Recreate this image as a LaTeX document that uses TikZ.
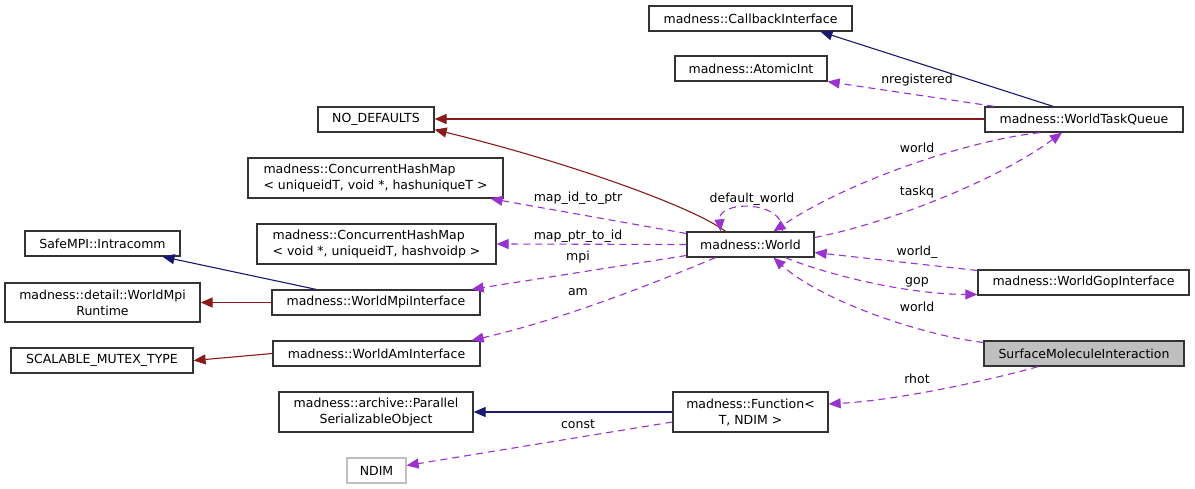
\documentclass[tikz,border=0pt]{standalone}
\usepackage{fontspec}
\setmainfont{DejaVu Sans}
\usetikzlibrary{arrows.meta}
\definecolor{navyc}{HTML}{191970}
\definecolor{redc}{HTML}{8B1A1A}
\definecolor{purc}{HTML}{9A32CD}
\definecolor{boxc}{HTML}{333333}
\definecolor{grayfill}{HTML}{BFBFBF}
\begin{document}
\begin{tikzpicture}[x=1pt,y=-1pt,
  box/.style={draw=boxc, line width=1.3pt, fill=white, inner sep=0pt, minimum height=25pt,
    font=\fontsize{12.5}{16}\selectfont, align=center},
  inh/.style={line width=1.1pt, -{Triangle[length=12pt,width=10pt]}},
  use/.style={draw=purc, line width=1.1pt, dash pattern=on 7pt off 5pt,
    -{Triangle[length=12pt,width=10pt]}, fill=none},
  lbl/.style={font=\fontsize{12.5}{16}\selectfont, inner sep=1pt, text=black}
]
\useasboundingbox (0,0) rectangle (1195,489);
\fill[white] (0,0) rectangle (1195,489);

% nodes
\node[box, minimum width=203pt] (CB) at (750.5,18.5) {madness::CallbackInterface};
\node[box, minimum width=152pt] (AI) at (751,68.5) {madness::AtomicInt};
\node[box, minimum width=116pt] (ND) at (376,119.5) {NO\_DEFAULTS};
\node[box, minimum width=198pt] (WTQ) at (1084,119.5) {madness::WorldTaskQueue};
\node[box, minimum width=255pt, minimum height=40pt, align=left] (CHM1) at (375.5,178)
  {madness::ConcurrentHashMap\\< uniqueidT, void *, hashuniqueT >};
\node[box, minimum width=239pt, minimum height=40pt, align=left] (CHM2) at (376.5,244)
  {madness::ConcurrentHashMap\\< void *, uniqueidT, hashvoidp >};
\node[box, minimum width=127pt] (World) at (750.5,244.5) {madness::World};
\node[box, minimum width=155pt] (SMI) at (102.5,243.5) {SafeMPI::Intracomm};
\node[box, minimum width=195pt, minimum height=39pt] (WMR) at (102.5,302.5)
  {madness::detail::WorldMpi\\Runtime};
\node[box, minimum width=208pt] (WMI) at (376,302.5) {madness::WorldMpiInterface};
\node[box, minimum width=211pt] (WGI) at (1083.5,282.5) {madness::WorldGopInterface};
\node[box, minimum width=200pt, fill=grayfill] (SURF) at (1084,353.5) {SurfaceMoleculeInteraction};
\node[box, minimum width=182pt] (SMT) at (102,360.5) {SCALABLE\_MUTEX\_TYPE};
\node[box, minimum width=207pt] (WAI) at (376.5,353.5) {madness::WorldAmInterface};
\node[box, minimum width=194pt, minimum height=40pt] (PSO) at (376,412)
  {madness::archive::Parallel\\SerializableObject};
\node[box, minimum width=155pt, minimum height=40pt] (FN) at (750.5,412)
  {madness::Function<\\T, NDIM >};
\node[box, minimum width=59pt, draw=grayfill] (NDIM) at (376.5,470.5) {NDIM};

% inheritance edges
\draw[inh, navyc] ([xshift=-31pt]WTQ.north) -- ([xshift=70pt]CB.south);
\draw[inh, redc] ([yshift=0.5pt]WTQ.west) -- ([yshift=0.5pt]ND.east);
\draw[inh, redc] ([xshift=-25pt]World.north) .. controls (690,205) and (560,160) .. ([yshift=3pt]ND.south east);
\draw[inh, navyc] ([xshift=-60pt]WMI.north) -- ([xshift=60pt]SMI.south);
\draw[inh, redc] (WMI.west) -- (WMR.east);
\draw[inh, redc] (WAI.west) -- (SMT.east);
\draw[inh, navyc] (FN.west) -- (PSO.east);

% usage edges
\draw[use] ([xshift=-90pt]WTQ.north) -- (AI.south east);
\draw[use] ([xshift=-44pt]WTQ.south) .. controls (970,140) and (850,180) .. ([xshift=23pt]World.north);
\draw[use] ([yshift=7pt]World.east) .. controls (880,225) and (990,185) .. ([xshift=-22pt]WTQ.south);
\draw[use] ([xshift=32pt]World.north) .. controls (785,200) and (718,200) .. ([xshift=-30pt]World.north);
\draw[use] ([yshift=11pt]World.west) -- ([xshift=-13pt]CHM1.south east);
\draw[use] (World.west) -- (CHM2.east);
\draw[use] ([yshift=-11pt]World.west) -- ([xshift=-9pt]WMI.north east);
\draw[use] ([xshift=-35pt]World.south) .. controls (650,285) and (560,320) .. ([xshift=-9pt]WAI.north east);
\draw[use] ([yshift=12pt]WGI.west) -- ([yshift=-8pt]World.east);
\draw[use] ([xshift=35pt]World.south) .. controls (820,272) and (900,294) .. ([yshift=-12pt]WGI.west);
\draw[use] ([yshift=11pt]SURF.west) .. controls (920,335) and (820,300) .. ([xshift=23pt]World.south);
\draw[use] ([xshift=-46pt]SURF.south) .. controls (990,380) and (900,400) .. ([yshift=8pt]FN.east);
\draw[use] ([yshift=-10pt]FN.west) -- ([yshift=5pt]NDIM.east);

% labels
\node[lbl] (Lnreg) at (917,80) {nregistered};
\node[lbl] (Lworld1) at (917,148) {world};
\node[lbl] (Ltaskq) at (917,192) {taskq};
\node[lbl] (Ldef) at (752,199) {default\_world};
\node[lbl] (Lmapid) at (578,198) {map\_id\_to\_ptr};
\node[lbl] (Lmapptr) at (578,236) {map\_ptr\_to\_id};
\node[lbl] (Lmpi) at (578,257) {mpi};
\node[lbl] (Lam) at (578,292) {am};
\node[lbl] (Lworldu) at (917,252) {world\_};
\node[lbl] (Lgop) at (917,282) {gop};
\node[lbl] (Lworld2) at (917,307) {world};
\node[lbl] (Lrhot) at (917,379) {rhot};
\node[lbl] (Lconst) at (578,424) {const};
\end{tikzpicture}
\end{document}
